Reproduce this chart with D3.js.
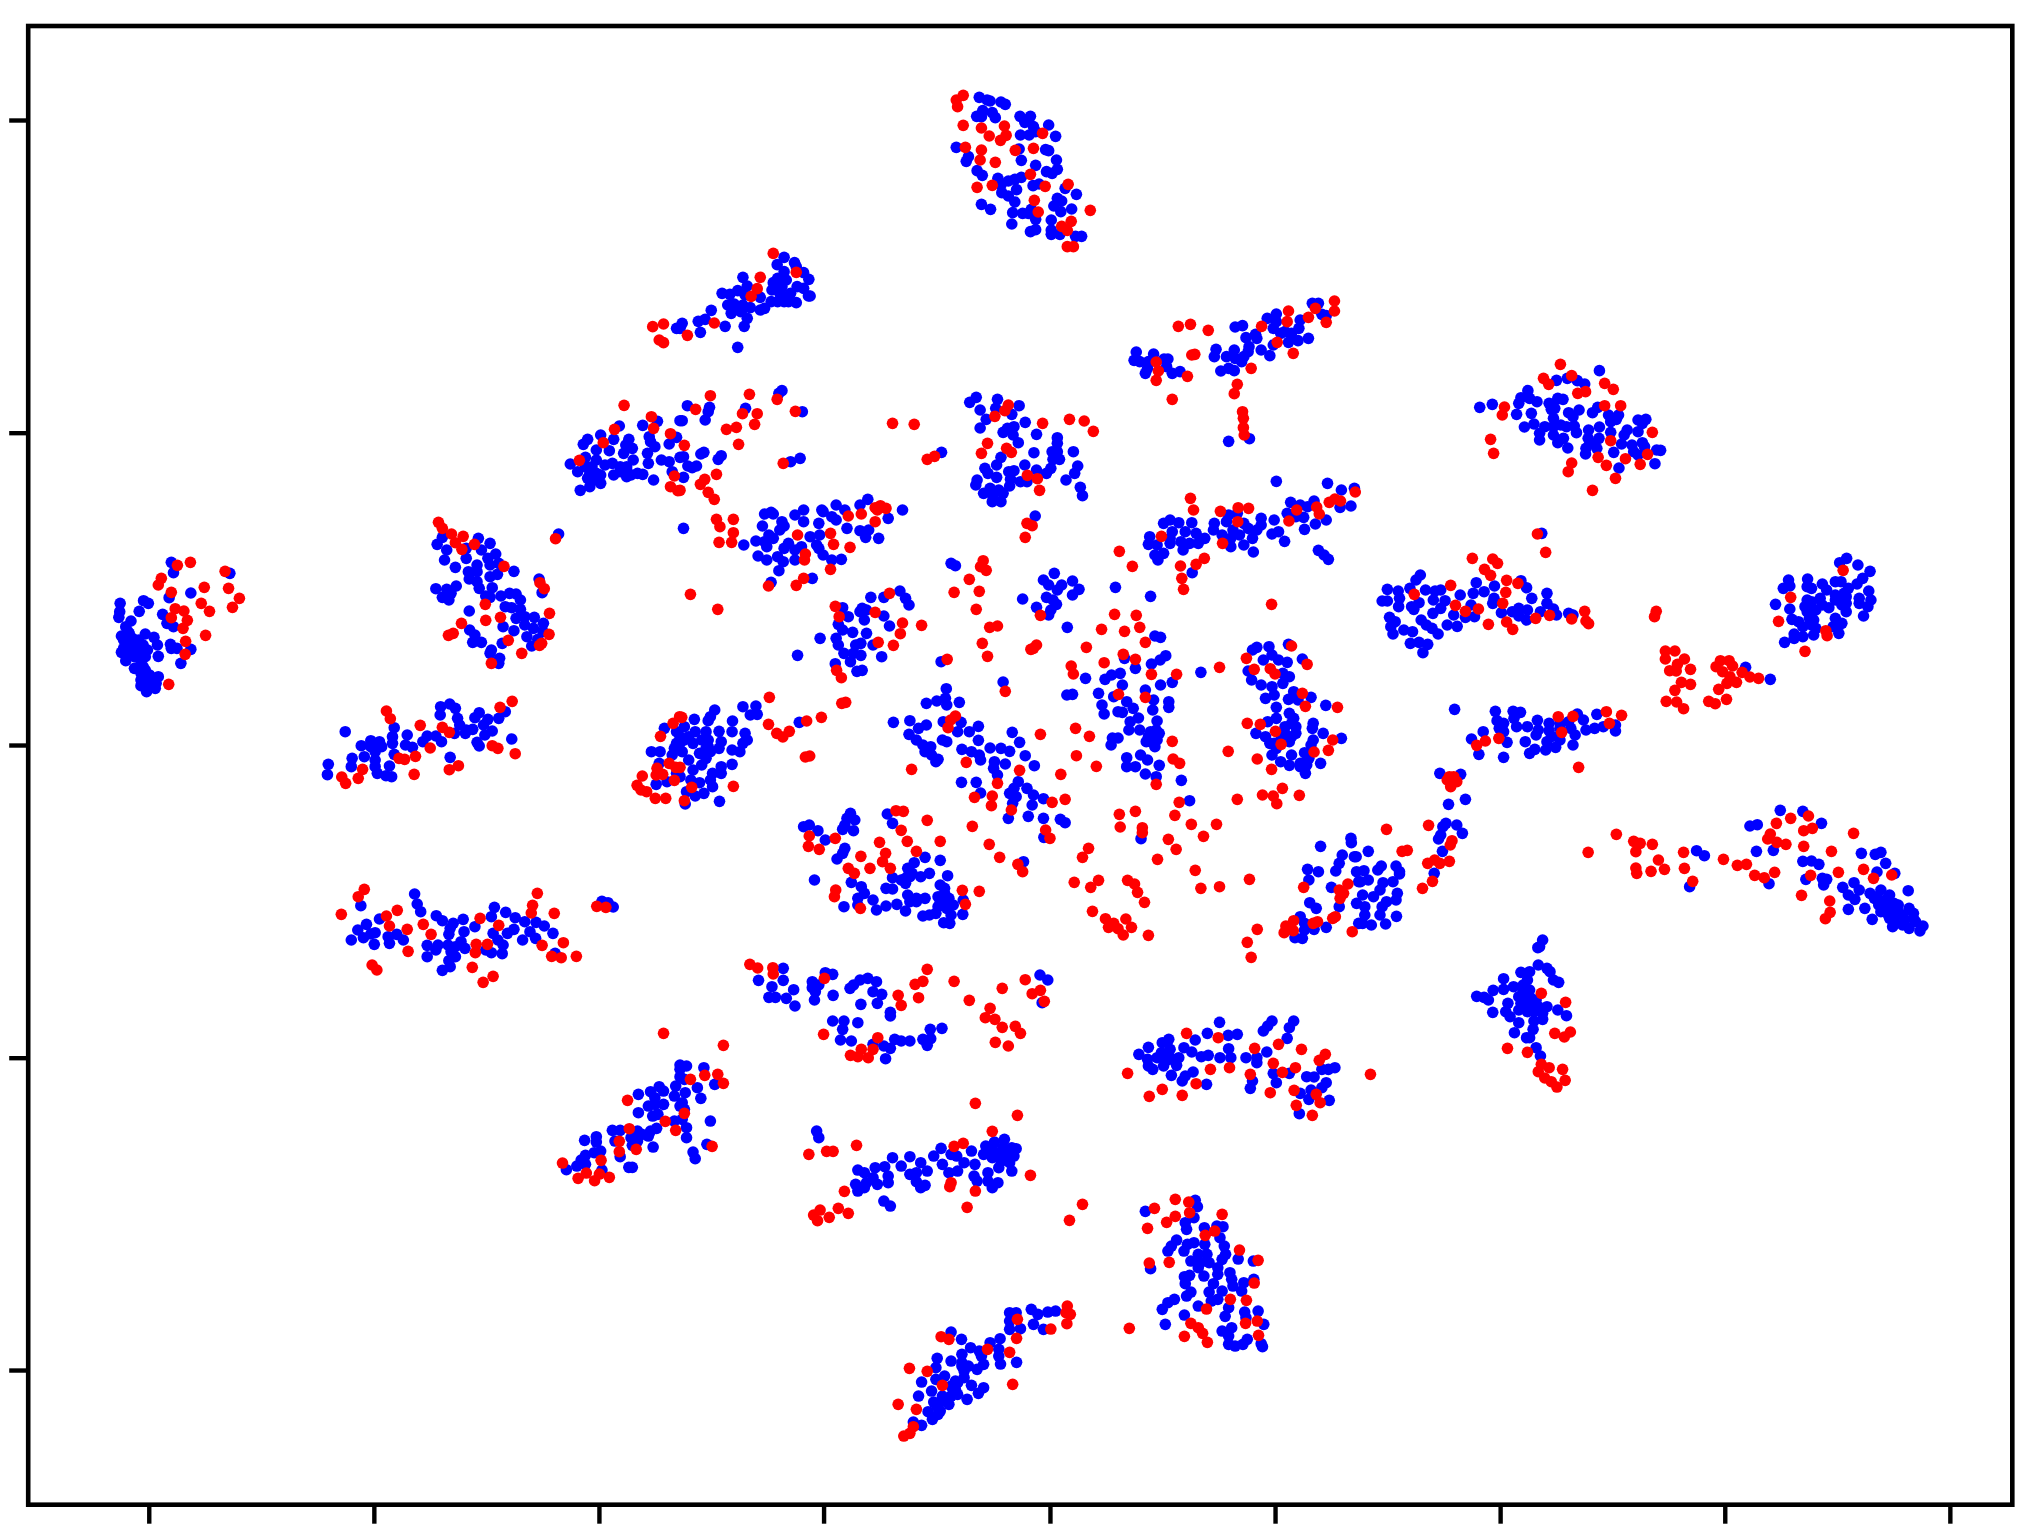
<!DOCTYPE html>
<html><head><meta charset="utf-8"><style>html,body{margin:0;background:#fff}svg{display:block}</style>
<script src="https://cdn.jsdelivr.net/npm/d3@7"></script></head><body><svg id="c" width="2036" height="1536"></svg>
<script>
const xTicks=[343,862,1381,1899,2421,2940,3459,3977,4496];
const yTicks=[360,1298,2235,3173,4110];
const regionX=[0,1568,3127];
const regionY=[0,1530,3048];
const blue00=[[1445,1410],[1430,1400],[1375,1420],[1360,1420],[1560,985],[1428,1278],[1482,1276],[1516,1264],[1568,1262],[1385,1305],[1355,1318],[1345,1333],[1415,1318],[1450,1318],[1497,1310],[1443,1335],[1458,1345],[1510,1340],[1500,1325],[1543,1332],[1560,1312],[1375,1350],[1405,1352],[1438,1360],[1493,1360],[1350,1372],[1315,1392],[1375,1380],[1412,1390],[1395,1395],[1460,1380],[1495,1390],[1525,1380],[1543,1385],[1568,1372],[1332,1415],[1350,1400],[1365,1400],[1445,1400],[1430,1415],[1470,1420],[1415,1425],[1455,1425],[1445,1430],[1482,1423],[1550,1415],[1507,1440],[1355,1435],[1385,1425],[1385,1450],[1360,1460],[1338,1471],[1372,1440]];
const red00=[[1505,980],[1530,972],[1520,1020],[1530,1028],[1439,1216],[1502,1250],[1507,1285],[1417,1288],[1391,1328],[1546,1301],[1336,1381],[1555,1428],[1546,1460],[1563,1472]];
const blue01=[[235,860],[240,890],[255,880],[225,865],[250,905],[130,925],[145,925],[120,925],[690,292],[708,300],[715,303],[740,306],[750,313],[698,332],[720,338],[684,349],[695,350],[727,353],[784,349],[808,349],[795,367],[850,375],[815,380],[785,405],[805,405],[820,395],[866,409],[637,442],[782,447],[843,449],[850,452],[665,470],[660,484],[787,481],[868,480],[820,496],[685,512],[697,526],[845,515],[858,520],[870,508],[733,535],[757,543],[772,538],[787,532],[814,557],[828,552],[740,555],[742,578],[776,569],[757,588],[888,565],[914,583],[772,606],[695,613],[716,628],[870,595],[862,618],[880,603],[878,635],[903,627],[767,638],[790,640],[803,640],[810,628],[820,658],[765,672],[856,660],[820,689],[808,695],[856,690],[856,703],[876,703],[912,709],[926,709],
[240,772],[264,788],[224,794],[268,800],[285,818],[240,815],[145,832],[297,838],[225,835],[215,848],[245,840],[155,858],[270,860],[285,865],[212,870],[97,880],[115,883],[133,872],[150,885],[185,892],[230,880],[296,888],[300,888],[240,905],[225,905],[268,908],[210,905],[110,915],[125,912],[145,915],[162,923],[195,925],[185,930],[118,940],[140,935],[72,931],[155,955],[42,964],[58,958],[5,970],[104,979],[148,979],[47,997],[133,1042],[0,985],
[1458,910],[1472,910],[1480,943],[1490,947],[1375,942],[1354,955],[1430,960],[1375,965],[1368,985],[1427,985],[1280,981],[1297,977],[1395,995],[1385,1000],[1410,1000],[1327,1003],[1305,1013],[1330,1015],[1449,1015],[1425,1022],[1403,1027],[1368,1035],[1312,1040],[1310,1055],[1340,1050],[1360,1067],[1236,1048],[1278,1050],[1232,1070],[1260,1070],[1280,1075],[1300,1070],[1295,1085],[1052,1056],[1092,1062],[1047,1081],[1080,1085],[1116,1077],[1125,1077],[1060,1085],[1122,1100],[1078,1105],[1073,1120],[1135,1120],[1153,1115],[1247,1113],[1265,1105],[1278,1112],[1265,1324],[1313,1316],
[235,1172],[228,1180],[17,1217],[68,1222],[151,1225],[282,1235],[65,1235],[5,1262],[58,1260],[55,1357],[48,1362],[95,1367],[88,1378],[8,1370],[277,1375],[255,1385],[38,1398],[18,1398],[28,1403],[8,1432],[603,1357],
[683,1192],[668,1207],[732,1198],[728,1225],[782,1217],[692,1230],[765,1243],[706,1258],[796,1267],[770,1280],[755,1285],[745,1297],[692,1284],[822,1303],[768,1305],[780,1328],[870,1313],[870,1330],[858,1355],[870,1355],[907,1355],[816,1358],[860,1378],[875,1378],[740,1372],[730,1395],[795,1395],[917,1398],[703,1405],[758,1415],[770,1412],[855,1405],[822,1410],[910,1420],[845,1420],[890,1440],[710,1420],[730,1432],[762,1438],[685,1440],[682,1455],[785,1445],[800,1445],[715,1465],[735,1470],[760,1458],[923,1462],[700,1480],[745,1480],[928,1487],[722,1490],[740,1505],[720,1505],
[210,1537],[285,1530],[327,1530],[360,1515],[380,1530],[415,1515],[433,1498],[513,1530],[1375,1444],[1493,1450],[1525,1470],[1555,1465],[1408,1507],[1462,1503],[1430,1515],[1447,1520],[1522,1522],[1547,1518]];
const red01=[[653,286],[637,300],[640,320],[653,376],[695,384],[748,378],[713,408],[752,406],[739,421],[836,400],[658,442],[695,450],[773,451],[815,445],[692,480],[727,487],[808,523],[895,553],[685,562],[720,556],[842,559],[817,601],[946,631],[826,636],[902,664],[880,679],[893,691],[893,740],[907,740],
[215,760],[268,817],[185,832],[178,866],[164,889],[79,969],[17,1006],
[1509,903],[1465,925],[1509,933],[1403,933],[1449,952],[1400,965],[1490,967],[1341,979],[1149,979],[1177,973],[1218,991],[1377,1027],[1180,1065],[1187,1063],[1414,1060],[1098,1086],[1103,1113],[1170,1129],[1098,1141],[1317,1105],[1285,1153],[1278,1181],[1135,1198],[1297,1235],[1299,1255],[1299,1283],[1301,1305],
[70,1187],[160,1183],[224,1198],[36,1228],[144,1241],[178,1241],[266,1234],[107,1288],[130,1282],[172,1273],[10,1336],[135,1333],[238,1390],[84,1423],[57,1438],[47,1453],[65,1477],[0,1471],[79,1498],[490,1270],[540,1273],[587,1369],[570,1378],
[757,1215],[749,1232],[726,1249],[836,1270],[898,1258],[932,1263],[953,1294],[709,1330],[695,1360],[753,1345],[764,1357],[801,1426],[824,1436],[829,1471],
[450,1523],[462,1517],[475,1525],[455,1530],[1177,1495],[1246,1534],[1287,1523],[1311,1525],[1184,1530],[1422,1530],[1468,1521],[1497,1507],[1510,1497],[1523,1503],[1557,1476]];
const blue02=[[561,1112],[462,1141],[487,1135],[510,1142],[527,1152],[396,1172],[380,1193],[400,1195],[375,1210],[417,1205],[465,1195],[477,1198],[285,1222],[314,1213],[445,1210],[450,1228],[458,1225],[514,1230],[490,1238],[545,1238],[557,1222],[370,1243],[404,1240],[410,1272],[582,1245],[605,1245],[500,1250],[587,1265],[600,1258],[455,1255],[650,1260],[668,1258],[660,1270],[388,1281],[435,1280],[455,1280],[472,1275],[485,1280],[503,1278],[561,1281],[536,1290],[625,1290],[650,1295],[423,1300],[508,1298],[587,1297],[618,1305],[455,1305],[478,1315],[423,1320],[465,1328],[535,1315],[560,1315],[540,1330],[612,1332],[636,1335],[660,1328],[665,1340],[488,1344],[530,1345],[555,1345],[640,1355],[693,1350],[702,1351],[529,1362],[594,1357],[650,1365],[689,1391],[606,1404]];
const red02=[[471,1093],[432,1135],[497,1127],[444,1153],[573,1150],[593,1168],[511,1180],[529,1175],[342,1221],[337,1245],[573,1217],[610,1217],[310,1318],[317,1360],[587,1322],[683,1297],[558,1372],[577,1396],[621,1376],[672,1363],[655,1393],[497,1389],[489,1415],[598,1435],[545,1471]];
const blue10=[[285,390],[300,410],[315,415],[330,405],[295,365],[310,440],[325,455],[335,480],[340,505],[330,520],[350,505],[340,535],[285,415],[305,385],[395,157],[400,188],[530,190],[440,249],[390,263],[331,272],[342,280],[277,280],[321,304],[276,305],[274,322],[375,313],[302,333],[385,340],[400,350],[290,350],[298,370],[335,372],[280,378],[355,382],[300,385],[320,390],[363,405],[290,400],[310,405],[393,403],[408,415],[395,415],[440,418],[340,420],[280,427],[300,430],[320,425],[365,439],[335,440],[290,452],[417,460],[310,475],[330,470],[325,490],[345,495],[365,500],[325,510],[345,515],[325,527],[345,530],[358,535],[338,545],[360,520],
[1288,72],[1020,82],[1103,85],[1130,100],[1008,103],[1030,120],[1075,115],[1110,120],[1143,132],[1075,145],[1125,145],[1025,150],[1100,165],[1130,165],[1050,172],[1150,160],[1185,184],[1080,185],[1100,185],[1147,193],[1130,200],[1082,207],[1100,215],[1243,207],[1052,228],[1005,236],[1030,238],[1105,235],[1135,233],[1040,250],[1250,248],[1020,262],[1035,270],[1155,258],[1175,250],[1190,252],[1120,258],[1130,262],[1200,270],[1165,290],[1180,293],[1200,298],[1082,303],[1190,325],[1210,320],[1232,322],[1253,340],[1160,350],[1210,345],[1230,355],[1083,360],[1185,362],[1095,375],[1215,380],[1252,365],[1090,397],[1110,397],[1158,400],[1240,388],[1226,408],[1133,420],[1152,445],[1150,460],[1130,430],
[1037,582],[1016,590],[1050,595],[1015,615],[1165,605],[1105,608],[1095,623],[1055,625],[1125,628],[1150,625],[1115,645],[1060,645],[1075,660],[909,653],[1090,658],[1135,663],[1048,670],[1118,675],[796,665],[939,675],[1073,670],[985,678],[905,680],[1005,678],[855,692],[875,695],[975,695],[1018,695],[1100,697],[1180,687],[833,707],[855,710],[880,710],[905,700],[935,705],[951,712],[1105,708],[909,733],[865,725],[840,740],[1038,742],[812,745],[865,750],[757,763],[810,770],[865,770],[898,768],[755,794],[870,790],[890,797],[903,800],
[1532,655],[1560,665],[1502,725],[1522,725],[1555,715],[1550,735],[1520,760],[1560,700],[1513,823],[1538,815],[1560,790],
[956,1152],[962,1182],[832,1187],[970,1205],[875,1227],[1140,1192],[1166,1207],[1006,1217],[1133,1220],[1068,1228],[1020,1232],[1188,1223],[1045,1240],[845,1243],[1210,1235],[1236,1237],[1095,1250],[1255,1248],[1185,1258],[825,1260],[1038,1255],[865,1268],[1070,1265],[1137,1270],[1222,1265],[1275,1270],[1170,1270],[1035,1273],[838,1283],[855,1272],[915,1273],[895,1280],[1148,1290],[1235,1285],[1205,1290],[810,1290],[930,1290],[863,1303],[898,1300],[985,1306],[1010,1305],[1033,1305],[1063,1295],[1160,1305],[1050,1310],[1072,1315],[1120,1320],[1005,1320],[1133,1328],[1158,1331],[1040,1325],[985,1340],[1050,1340],[1035,1352],[1038,1370],[1020,1381],[1280,1330],[1388,1174],[1402,1178],[1414,1191]];
const red10=[[409,166],[439,157],[519,184],[372,205],[365,225],[395,247],[471,232],[527,235],[552,265],[464,280],[536,292],[483,304],[404,296],[424,303],[395,323],[432,331],[422,355],[474,376],[428,394],[427,433],[389,523],
[1011,37],[1020,55],[1041,72],[1068,79],[1050,98],[1094,103],[1065,118],[1162,169],[1245,218],[1255,236],[1119,283],[1267,310],[1120,331],[1154,322],[1064,340],[1045,370],[1034,376],[1266,373],[1172,391],[1249,400],[1244,406],[1203,430],[1133,460],[1281,86],
[1181,574],[1153,592],[891,603],[900,626],[969,646],[1020,652],[1036,667],[992,714],[1135,707],[1148,715],[1188,731],[958,739],[920,745],[933,748],[836,778],[1057,767],[1036,779],[788,801],[797,820],[826,805],[955,793],
[1567,620],[1552,640],[1523,679],[1543,760],[1515,775],[1558,772],[1513,795],[1528,793],[1481,798],[1555,811],[1469,826],[1478,840],[1491,845],[1511,865],[1535,865],
[840,1138],[826,1160],[787,1213],[916,1201],[891,1218],[898,1248],[939,1258],[976,1243],[994,1273],[1107,1225],[1239,1150],[1228,1186],[1225,1209],[1278,1210],[1150,1246],[1299,1298],[1098,1303],[1124,1303],[1096,1328],[1250,1306],[1272,1339],[1294,1343],[1329,1339],[941,1324],[858,1365],[869,1380],[1089,1372],[1137,1399],[1114,1417],[1376,1189],[1397,1192]];
const blue11=[[1085,665],[1105,670],[1085,695],[1100,690],[1395,685],[1410,680],[1385,690],[1370,700],[1430,770],[1435,760],[1445,765],[1395,650],[1410,640],[610,1150],[600,1175],[615,1195],[535,1090],[525,1100],[520,1105],[60,715],[55,730],[0,700],[10,690],[65,690],[8,55],[147,105],[195,12],[215,12],[265,15],[235,35],[285,35],[320,40],[330,5],[350,20],[360,30],[385,55],[415,62],[435,60],[428,82],[458,85],[480,25],[190,48],[240,48],[205,75],[230,60],[175,93],[195,95],[215,85],[250,100],[300,80],[322,75],[280,110],[315,105],[200,110],[240,115],[265,120],[320,115],[180,138],[225,140],[200,150],[238,155],[265,150],[330,135],[350,150],[372,148],[228,182],[305,205],[210,217],
[507,243],[440,262],[470,262],[520,265],[528,285],[375,293],[420,295],[388,320],[425,330],[470,318],[365,343],[483,348],[398,367],[430,370],[375,360],[323,385],[360,385],[365,405],[405,405],[417,400],[445,405],[378,430],[400,430],[417,436],[465,440],[271,436],[393,455],[358,461],[408,484],[420,481],[430,300],[415,305],
[625,160],[635,167],[602,455],[745,516],[819,18],[1004,232],[1085,259],
[863,190],[838,210],[850,225],[905,213],[920,238],[880,225],[870,240],[905,255],[845,262],[860,270],[790,267],[868,283],[822,292],[855,300],[850,315],[893,352],
[1115,40],[1130,30],[1150,38],[1180,38],[1232,40],[1260,35],[1300,40],[1340,25],[1370,30],[1438,22],[1490,30],[1083,80],[1135,65],[1165,65],[1190,70],[1210,85],[1230,60],[1275,60],[1310,55],[1330,60],[1380,65],[1365,72],[1440,58],[1465,42],[1080,103],[1100,105],[1130,100],[1155,95],[1175,100],[1195,100],[1270,85],[1290,75],[1320,85],[1300,105],[1394,94],[1270,110],[1095,135],[1115,130],[1160,120],[1102,150],[1322,126],[1472,121],[1485,135],[1495,148],[1181,188],[1130,85],[1250,75],[1420,20],[1400,10],[1340,45],[1265,15],[1285,10],
[145,590],[175,588],[162,615],[178,613],[80,600],[70,620],[33,628],[65,632],[121,633],[10,650],[35,665],[60,665],[90,664],[120,665],[150,670],[155,690],[0,680],[20,680],[50,690],[95,695],[30,700],[65,710],[145,700],[120,720],[138,725],[5,725],[45,730],[70,725],[90,715],[60,745],[120,763],[20,750],[95,770],[50,765],[30,780],[75,790],[95,790],[0,800],[45,818],[70,810],[75,830],[55,850],[35,858],[15,845],[91,874],[12,882],[25,810],[275,637],
[614,536],[568,580],[592,573],[612,565],[615,585],[644,577],[492,637],[530,632],[568,645],[550,655],[607,635],[648,637],[688,649],[640,665],[667,665],[528,673],[545,690],[605,690],[615,695],[688,691],[560,705],[766,667],[783,697],[578,710],[565,725],[650,718],[672,725],[715,714],[740,715],[760,724],[690,735],[796,737],[580,735],[595,748],[590,755],[693,750],[725,755],[750,762],[817,767],[723,775],[732,795],[683,817],[649,817],[780,815],[770,835],[800,835],[760,850],[775,860],[815,855],[838,866],[693,849],[812,885],[767,880],[757,925],[803,919],[838,925],[877,928],[888,938],[839,982],
[1095,378],[1108,382],[1120,437],[1107,450],[1025,445],[1087,462],[1050,475],[1015,490],[995,495],[980,508],[1020,525],[935,505],[1108,525],[1135,517],[892,555],[905,553],[965,550],[1073,540],[1000,560],[1030,575],[973,585],[1045,595],[1092,570],[1127,575],[1127,592],[1090,600],[978,612],[1010,605],[1020,607],[1057,624],[1100,633],[1038,635],[1035,660],[1060,660],[1098,660],[1095,680],[1080,680],[1010,684],[997,684],[994,705],[1095,710],[1075,695],[1030,743],[1062,735],[1078,750],[1030,770],[1050,770],[1105,766],[1073,792],[1098,800],[1156,811],
[1403,403],[1330,412],[1358,410],[1320,420],[1365,435],[1435,447],[1345,450],[1380,450],[1400,457],[1310,483],[1390,490],[1405,500],[1318,510],[1390,520],[1340,525],[1365,530],[1415,545],[1455,562],[1350,565],[1370,555],[1403,568],[1425,570],[1489,586],[1375,592],[1405,610],[1375,625],[1415,625],[1355,635],[1460,640],[1420,650],[1458,655],[1483,670],[1328,670],[1350,680],[1395,670],[1420,670],[1525,685],[1460,690],[1360,700],[1405,695],[1375,715],[1455,705],[1440,728],[1365,735],[1385,755],[1410,735],[1450,745],[1477,760],[1405,766],[1430,760],[1440,775],[1442,790],[1201,487],[1175,872],[1063,986],
[393,910],[385,925],[403,930],[380,945],[478,912],[490,940],[285,950],[298,945],[318,962],[375,958],[400,962],[335,990],[380,1015],[375,1030],[362,1047],[565,1042],[600,1051],[540,1058],[525,1075],[575,1090],[617,1097],[310,1110],[490,1103],[530,1100],[555,1100],[510,1110],[395,1117],[520,1120],[600,1125],[418,1130],[475,1135],[490,1137],[610,1135],[425,1150],[525,1155],[545,1165],[565,1165],[595,1160],[620,1165],[410,1165],[445,1170],[653,1170],[500,1183],[475,1188],[378,1190],[530,1175],[595,1190],[630,1185],[410,1185],[453,1200],[520,1203],[590,1210],[652,1213],[560,1218],[575,1215],[625,1215],[608,1238],[622,1240],[545,1175],[605,1180],[792,1055],
[1547,985],[1548,998],[1477,1009],[1527,1035],[1555,1040],[1520,1060],[1512,1083],[1447,1078],[1472,1085],[1450,1110],[1560,1085],[1502,1132],[1565,1115],[1520,1190],[1452,1178],[1467,1195],[1560,1180],[1430,1220],[1440,1240],[1462,1258],[1490,1252],[1440,1260],[1418,1283],[1435,1285],[1565,1240],
[238,1375],[335,1388],[352,1393],[181,1411],[238,1411],[305,1415],[320,1425],[305,1433],[415,1410],[433,1405],[453,1415],[400,1425],[392,1435],[262,1439],[212,1430],[312,1445],[445,1445],[465,1453],[205,1462],[220,1462],[245,1465],[353,1456],[310,1470],[455,1480],[417,1483],[265,1488],[485,1507],[830,1395],[848,1410],[835,1478]];
const red11=[[84,28],[123,28],[92,50],[123,68],[90,97],[119,97],[271,75],[347,70],[354,103],[392,112],[289,132],[287,150],[347,178],[285,205],[268,226],[204,228],[388,18],[418,12],[450,35],[24,253],[87,298],
[483,250],[358,289],[450,307],[367,320],[513,339],[557,346],[508,371],[457,397],[492,406],[361,481],[372,503],
[699,152],[693,170],[706,181],[667,208],[632,247],[690,244],[683,298],[714,352],[732,348],[697,400],[709,439],[822,405],[809,418],[815,415],[616,448],[831,316],[800,40],[812,47],[796,82],[1013,124],[1043,169],[1002,313],[1052,316],[972,358],[1025,364],[1060,352],[1073,397],[937,412],[1364,283],[750,544],
[1110,79],[1286,35],[1251,100],[1404,33],[1474,12],[1209,145],[1190,163],[1154,168],[1157,205],[1161,238],
[206,562],[4,622],[204,643],[223,670],[237,681],[252,664],[292,633],[326,622],[373,580],[382,577],[289,741],[299,738],[123,829],[27,832],[10,872],[0,772],
[635,618],[624,630],[618,653],[660,757],[534,778],[783,781],[732,820],[878,793],[679,862],[720,858],[718,887],[858,877],[888,868],[764,900],[831,673],[843,960],[853,985],
[1022,433],[1050,448],[978,458],[902,468],[907,492],[1087,493],[1145,493],[1011,553],[1073,562],[1135,694],[912,655],[944,679],[914,737],[960,769],[1137,747],[1152,760],[1098,823],
[1410,408],[1306,445],[1446,463],[1324,478],[1361,476],[1372,492],[1435,550],[1442,589],[1516,592],[1308,640],[1338,643],[1373,664],[1505,690],[1386,703],[1495,721],[1462,726],[1264,724],[1331,747],[1364,778],[1244,472],
[1389,835],[1343,855],[1368,858],[1428,856],[1285,868],[1376,881],[1151,877],[1050,904],[1013,913],[1141,916],[1179,943],[1237,943],[1015,951],[1066,953],[1066,968],[1207,979],[1126,988],[1144,1018],
[498,902],[515,904],[570,931],[674,949],[510,961],[358,985],[298,978],[296,1009],[321,1018],[524,994],[460,997],[600,994],[713,1003],[545,1024],[417,1039],[474,1030],[467,1055],[737,1042],[388,1075],[402,1090],[438,1075],[485,1075],[779,1063],[790,1085],[359,1140],[356,1160],[651,1141],[690,1144],[658,1183],[416,1195],
[942,1015],[928,1042],[1101,1048],[1188,1081],[1313,1108],[909,1117],[965,1111],[947,1132],[1032,1111],[1048,1122],[1055,1147],[1201,1135],[1244,1130],[1071,1177],[951,1204],[981,1226],[1028,1227],[1000,1240],[988,1252],[1041,1252],[1010,1256],[1022,1275],[1080,1276],[1331,1258],[1308,1297],[1317,1342],
[1438,1132],[1540,1122],[1520,1140],[1530,1150],[1522,1165],[1511,1220],[1505,1225],[1470,1235],[1460,1240],[1415,1232],[1397,1248],[1393,1268],[1414,1262],[1550,1265],
[161,1363],[179,1374],[214,1373],[215,1392],[333,1405],[570,1378],[560,1414],[542,1423],[632,1414],[796,1409],[743,1435],[831,1441],[812,1451],[840,1474],[503,1456],[550,1463],[667,1471],[510,1486],[715,1495]];
const blue12=[[1200,1160],[1220,1170],[1235,1190],[1215,1190],[1225,1210],[1245,1215],[1260,1215],[1205,1185],[1240,1235],[1260,1245],[1285,1225],[1195,1165],[1220,1205],[1040,270],[1050,275],[1035,290],[1050,310],[1055,330],[1030,350],[1130,280],[1115,270],[1105,270],[1160,280],[1125,250],[385,1445],[400,1460],[380,1480],[410,1505],[395,1490],[420,1490],[470,640],[470,655],[450,680],[428,70],[148,195],[138,210],[380,212],[277,218],[124,235],[319,228],[393,233],[72,238],[97,243],[160,240],[182,243],[195,240],[440,250],[295,245],[270,250],[240,255],[405,265],[60,273],[72,273],[100,265],[178,270],[145,278],[205,272],[265,285],[318,265],[315,280],[440,280],[98,290],[195,295],[133,298],[177,310],[375,295],[395,300],[335,308],[360,305],[225,315],[425,305],[455,297],[77,322],[252,322],[273,320],[375,318],[393,330],[462,315],[490,310],[500,315],[150,330],[90,335],[210,345],[233,349],[162,345],[80,350],[110,360],[175,355],[85,372],[130,365],[189,372],[125,400],[145,397],[165,403],[154,428],[128,290],
[1131,145],[1115,158],[1157,165],[1185,184],[997,210],[1041,207],[1168,205],[1105,215],[1118,215],[1075,222],[985,235],[1000,228],[1040,230],[1050,235],[1155,222],[1085,240],[1135,235],[1182,243],[1070,265],[1105,255],[1130,260],[1045,285],[1160,265],[1187,270],[967,283],[1000,297],[1060,300],[1090,293],[1120,285],[1180,290],[1040,305],[1130,305],[1170,318],[1005,328],[1045,325],[1105,325],[1020,335],[1050,345],[1120,340],[1060,355],[1010,372],[1030,380],[1010,385],[1055,375],[1113,370],[988,397],[1100,350],[1075,285],[898,472],[955,508],
[227,598],[321,604],[362,604],[379,607],[325,632],[364,625],[418,631],[510,612],[555,613],[524,630],[445,640],[490,635],[340,640],[395,650],[370,650],[330,655],[598,645],[570,650],[550,655],[293,665],[340,665],[420,660],[445,662],[495,655],[530,660],[598,663],[415,675],[465,680],[505,675],[266,687],[390,695],[348,697],[440,695],[470,690],[500,705],[283,733],[340,742],[412,718],[400,730],[437,720],[460,712],
[193,790],[241,793],[252,868],[213,883],[207,940],[232,945],[200,950],[245,970],[195,975],[190,987],[199,1024],[180,1090],
[28,1024],[0,1040],[58,1068],[50,1080],[18,1082],[92,1068],[100,1085],[100,1092],[10,1115],[28,1110],[85,1115],[62,1118],[55,1140],[95,1150],[15,1155],[40,1160],[70,1175],[20,1190],[60,1190],[92,1170],[55,1215],[20,1215],[93,1219],[15,1240],[35,1245],[68,1242],
[978,901],[1030,904],[1073,940],[908,948],[925,944],[1165,1030],[1197,1033],[1210,1027],[923,1024],[962,1021],[785,1022],[803,1037],[1030,1054],[1050,1053],[1067,1063],[1221,1060],[1201,1086],[1242,1090],[1037,1108],[1075,1105],[1085,1108],[1078,1125],[1273,1142],[952,1121],[769,1130],[1122,1132],[1148,1118],[1135,1155],[1160,1140],[1150,1168],[1185,1150],[1210,1140],[1230,1155],[1135,1198],[1173,1195],[1210,1175],[1190,1228],[1240,1180],[1275,1195],[1225,1195],[1250,1205],[1285,1210],[1230,1225],[1265,1230],[1237,1250],[1290,1235],[1275,1255],[1307,1248],[1300,1263],[1210,1205],[1250,1185],
[430,1290],[423,1310],[419,1313],[420,1365],[440,1375],[380,1387],[400,1385],[447,1385],[455,1410],[467,1417],[395,1410],[340,1406],[385,1425],[316,1441],[340,1438],[363,1430],[278,1459],[295,1462],[305,1470],[400,1440],[375,1460],[350,1480],[390,1475],[415,1470],[405,1490],[440,1490],[465,1500],[485,1517],[315,1507],[345,1505],[375,1500],[395,1505],[430,1510],[355,1520]];
const red12=[[268,145],[315,147],[326,160],[296,178],[310,196],[218,226],[347,211],[373,220],[134,253],[345,247],[338,280],[229,286],[252,304],[282,297],[527,304],[414,325],[446,316],[497,327],[530,333],[536,341],[305,343],[347,336],[361,358],[418,72],[437,127],[692,304],[688,320],
[1123,181],[1002,262],[974,334],[1083,362],[1086,377],[1035,424],
[713,423],[735,423],[713,447],[757,447],[741,463],[771,478],[723,482],[738,483],[840,452],[860,452],[868,468],[830,470],[845,485],[890,487],[908,501],[928,505],[750,517],[771,523],[862,500],[855,520],[877,517],[735,541],[836,538],[715,574],[739,576],[755,596],[813,574],[828,581],[854,568],
[577,605],[612,616],[466,620],[500,619],[584,640],[474,667],[329,685],[298,693],[278,706],[513,772],
[215,800],[225,800],[210,810],[232,815],[218,830],[167,946],[221,992],[217,1005],[70,958],[118,1021],[106,1024],[165,1060],[181,1050],[193,1060],[215,1054],[176,1114],[153,1135],
[1043,918],[1002,925],[969,940],[1032,962],[1052,955],[1147,970],[955,972],[949,987],[970,997],[991,1003],[1032,1009],[600,973],[640,994],[655,1000],[683,1003],[755,1027],[645,1025],[535,1027],[1096,1024],[697,1050],[847,1048],[645,1074],[647,1090],[680,1084],[711,1078],[757,1075],[879,1066],[900,1063],[1112,1087],[1170,1078],[1193,1105],[965,1087],[919,1096],[941,1103],[776,1114],[1048,1096],[1235,1095],[1027,1156],[1092,1173],[1093,1207],[1082,1226],
[427,1450],[483,1477]];
const blue20=[[1568,147],[1568,182],[1558,210],[1520,212],[1500,227],[1472,235],[1530,225],[1510,245],[1555,240],[1568,270],[1495,270],[1530,265],[1510,265],[1472,290],[1505,300],[1517,295],[1555,315],[1514,337],[1500,345],[1412,343],[1430,343],[1470,345],[1480,355],[1455,365],[1495,360],[1348,373],[1375,362],[1418,375],[1470,375],[1375,378],[1506,393],[1458,388],[1385,405],[1370,410],[1430,422],[1350,418],[1340,432],[1330,450],[1350,445],[1306,461],[1388,462],[1450,454],[1458,454]];
const red20=[[1530,52],[1447,253],[1534,316],[1558,343],[1451,338],[1428,376],[1428,407],[1467,400],[1386,433],[1297,441],[1352,471],[1382,474],[1333,487],[1371,494],[1405,484]];
const blue21=[[640,1100],[625,1110],[630,1130],[610,1155],[590,1165],[600,1185],[650,1050],[665,1050],[735,410],[745,395],[755,410],[720,400],[740,435],[760,440],[1120,120],[1120,135],[1135,130],[15,150],[55,155],[0,160],[10,190],[40,215],[80,205],[12,230],[48,247],[5,260],[10,280],[70,315],[15,335],[15,365],[62,385],[30,408],[35,428],[5,310],
[352,15],[378,15],[375,40],[410,20],[485,0],[577,40],[604,37],[370,72],[395,75],[445,85],[495,70],[510,75],[530,75],[560,70],[578,68],[570,88],[470,90],[485,97],[474,128],[1244,19],
[1216,52],[1264,58],[1285,55],[1188,72],[1127,70],[1112,80],[1365,15],[1355,30],[1345,45],[1415,15],[1405,35],[1400,67],[1080,94],[1058,115],[1162,95],[1130,100],[1110,110],[1180,108],[1265,98],[1202,122],[1218,118],[1353,108],[1078,130],[1100,125],[1150,125],[1245,125],[1270,125],[1305,125],[1330,125],[1080,150],[1115,150],[1145,148],[1090,160],[1330,140],[1133,178],[1183,168],[1165,180],[1158,195],[1214,205],[1368,172],[1405,172],[1445,182],[1462,183],[1480,160],[1495,160],[1510,155],[1375,200],[1320,195],[1315,217],[1490,200],[1480,215],[1430,232],[1455,222],[1450,250],[1497,253],[1428,293],
[315,345],[320,365],[410,462],[450,455],[472,452],[490,425],[530,422],[425,470],[510,450],[555,440],[585,420],[602,397],[625,415],[638,420],[672,405],[705,390],[725,378],[748,370],[765,395],[775,398],[700,415],[655,440],[680,445],[720,425],[750,425],[770,420],[605,445],[570,465],[530,475],[445,485],[480,480],[620,470],[640,465],[735,455],[765,465],[710,470],[678,480],[685,495],[430,500],[455,505],[480,500],[405,505],[410,525],[425,515],[545,497],[565,508],[555,515],[710,495],[720,515],[733,500],[470,555],[485,570],[545,470],
[760,890],[775,890],[810,880],[825,895],[848,888],[866,885],[760,915],[815,925],[838,940],[760,940],[785,938],[625,948],[649,970],[715,980],[738,968],[670,995],[690,1005],[735,1000],[650,1015],[625,1035],[695,1020],[735,1020],[593,1027],[650,1040],[700,1045],[739,1044],[776,1039],[590,1055],[685,1060],[655,1065],[655,1085],[610,1080],[590,1090],[635,1095],[557,1098],[672,1108],[700,1115],[688,1132],[580,1125],[635,1120],[550,1140],[605,1140],[640,1135],[662,1150],[585,1158],[620,1165],[595,1175],[572,1187],[595,1195],[582,1210],[557,1228],[538,1218],[625,1140],
[1188,553],[1193,572],[1073,586],[1185,605],[1165,620],[1168,640],[1209,635],[1252,632],[1238,630],[1145,672],[1133,690],[1125,705],[1245,665],[1255,690],[1185,680],[1210,685],[1170,685],[1162,705],[1258,715],[1195,715],[1215,715],[1250,730],[1178,735],[1287,729],[1322,735],[1200,740],[1220,740],[1195,755],[1240,755],[1085,758],[1240,775],[1175,778],[1163,782],[1208,780],[1268,770],[1272,790],[1165,803],[1230,803],[1300,800],[1323,790],[1275,810],[1220,828],[1178,828],[1168,840],[1250,825],[1295,825],[1240,850],[1140,850],[1125,860],[1225,855],[1112,880],[1195,870],[1265,875],[1302,888],[1333,885],[1163,897],[1257,901],[1305,905],[1119,925],[1346,925],[1250,945],[1272,935],[1265,960],[1265,985],[1280,990],[1298,985],[1308,970],[1340,983],[1343,992]];
const red21=[[100,88],[57,178],[87,175],[24,190],[100,202],[10,292],[74,391],
[331,55],[456,65],[445,100],[418,100],[393,118],[410,122],[434,125],[704,5],[726,10],[743,34],[773,31],[785,52],[727,79],[757,90],
[1168,52],[1241,65],[1380,85],[1325,97],[1433,100],[1488,115],[1474,133],[1368,142],[1223,160],[1267,155],[1419,155],[1315,175],[1389,169],[1032,172],[1190,203],[1112,220],[1082,241],[1158,238],[1361,230],[1416,223],[1467,235],[1476,260],[1421,268],[1458,298],
[681,262],[778,298],[720,346],[653,382],[632,391],[407,388],[338,406],[353,406],[297,415],[808,478],[625,500],[622,512],[681,525],[379,526],[662,574],[365,577],[388,592],[323,582],[308,597],[344,604],[317,614],[928,565],[898,613],
[893,870],[890,890],[900,895],[778,910],[892,923],[855,939],[776,967],[602,962],[620,970],[709,1000],[760,1009],[529,1057],[570,1066],[605,1108],[767,1105],[503,1165],[545,1180],[538,1232],[530,1252],[516,1260],[1036,937],
[1142,550],[1173,558],[1094,577],[1142,601],[1175,590],[1122,619],[1250,595],[1078,637],[1211,658],[1233,645],[1290,702],[1333,733],[1082,741],[1128,739],[1324,801],[1269,850],[1306,853],[1214,879],[1331,915],[1304,922],[1178,922],[1195,935],[1205,952],[1163,961],[1216,979],[1334,958]];
const blue22=[[365,50],[400,65],[393,65],[408,40],[415,95],[425,120],[430,10],[410,15],[375,20]];
const red22=[[458,52],[480,63],[494,48],[349,97],[395,109],[427,145],[445,155],[420,167],[476,160],[435,186],[482,193],[450,197],[463,213],[33,175]];

const blueRegions=[[blue00,blue01,blue02],[blue10,blue11,blue12],[blue20,blue21,blue22]];
const redRegions=[[red00,red01,red02],[red10,red11,red12],[red20,red21,red22]];
const place=(grid)=>grid.flatMap((row,r)=>row.flatMap((cell,c)=>cell.map(([u,v])=>[u+regionX[c],v+regionY[r]])));
const L=28.2,R=2012.3,T=26,B=1504.7;
const x=d3.scaleLinear().domain([65,4640]).range([L,R]);
const y=d3.scaleLinear().domain([78,4514]).range([T,B]);
const svg=d3.select('#c');
const dots=(data,color)=>svg.append('g').selectAll('circle').data(data).join('circle')
 .attr('cx',d=>x(d[0])).attr('cy',d=>y(d[1])).attr('r',5.8).attr('fill',color);
dots(place(blueRegions),'#0000ff');
dots(place(redRegions),'#ff0000');
const ax=svg.append('g').attr('transform',`translate(0,${B})`).call(d3.axisBottom(x).tickValues(xTicks).tickFormat('').tickSize(19));
const ay=svg.append('g').attr('transform',`translate(${L},0)`).call(d3.axisLeft(y).tickValues(yTicks).tickFormat('').tickSize(19));
[ax,ay].forEach(g=>{g.select('.domain').remove();g.selectAll('line').attr('stroke','#000').attr('stroke-width',4.4);});
svg.append('rect').attr('x',L).attr('y',T).attr('width',R-L).attr('height',B-T).attr('fill','none').attr('stroke','#000').attr('stroke-width',4.6);
</script></body></html>
